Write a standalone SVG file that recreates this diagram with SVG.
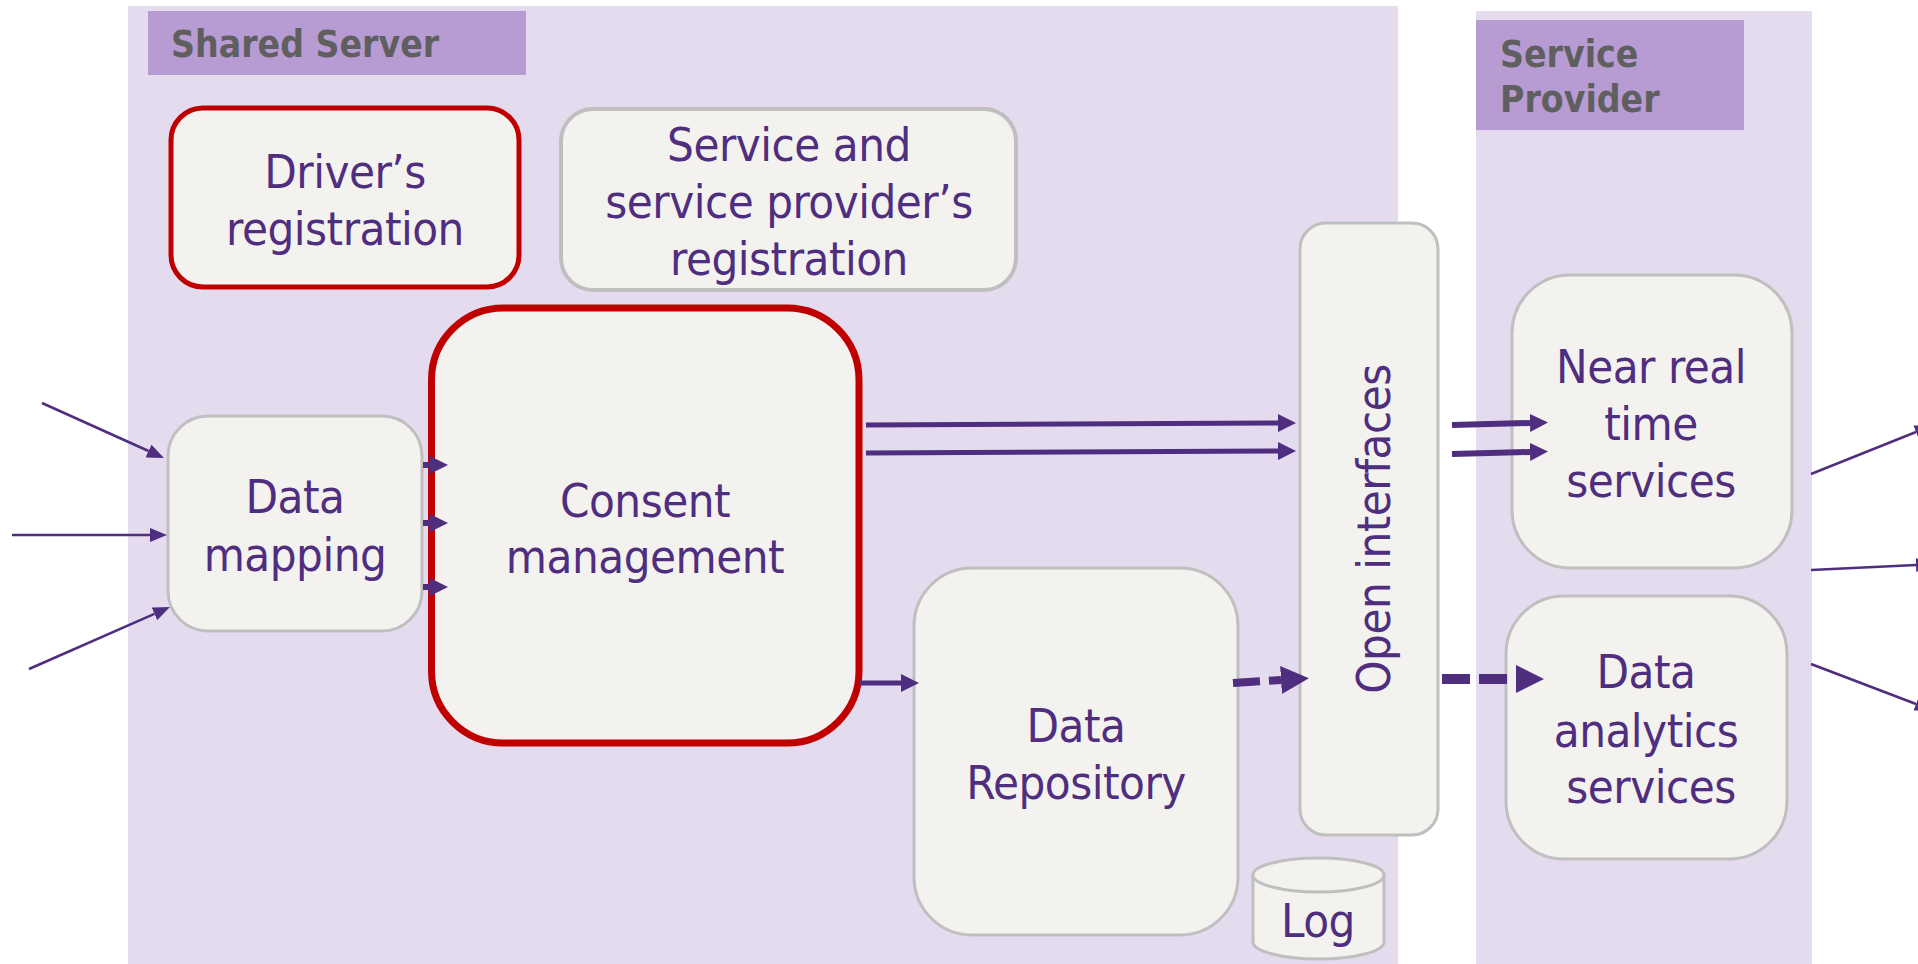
<svg xmlns="http://www.w3.org/2000/svg" width="1918" height="964" viewBox="0 0 1918 964">
<style>
.bg{fill:#E4DCEE}
.title{fill:#B79BD3}
.ttl{font-family:"DejaVu Sans Condensed","DejaVu Sans",sans-serif;font-weight:bold;font-size:37px;fill:#5F5F5F}
.node{fill:#F3F2EF;stroke:#BFBFBF;stroke-width:3}
.red{stroke:#C00000}
.lbl{font-family:"DejaVu Sans Condensed","DejaVu Sans",sans-serif;font-size:47px;letter-spacing:-0.5px;fill:#4F2D7F;text-anchor:middle}
.thin{stroke:#4F2D7F;stroke-width:2.5;fill:none}
.mid{stroke:#4F2D7F;stroke-width:5;fill:none}
.dash8{stroke:#4F2D7F;stroke-width:8;fill:none;stroke-dasharray:27 9}
.dash10{stroke:#4F2D7F;stroke-width:10;fill:none;stroke-dasharray:28 9}
</style>
<defs>
<marker id="hs" markerUnits="userSpaceOnUse" markerWidth="17" markerHeight="14" refX="0" refY="7" orient="auto"><path d="M0,0 L17,7 L0,14 z" fill="#4F2D7F"/></marker>
<marker id="hm" markerUnits="userSpaceOnUse" markerWidth="18" markerHeight="18" refX="0" refY="9" orient="auto"><path d="M0,0 L18,9 L0,18 z" fill="#4F2D7F"/></marker>
<marker id="hl" markerUnits="userSpaceOnUse" markerWidth="28" markerHeight="28" refX="0" refY="14" orient="auto"><path d="M0,0 L28,14 L0,28 z" fill="#4F2D7F"/></marker>
</defs>

<g id="shared-server">
<rect class="bg" x="128" y="6" width="1270" height="958"/>
<rect class="title" x="148" y="11" width="378" height="64"/>
<text class="ttl" x="171" y="57">Shared Server</text>
</g>
<g id="service-provider">
<rect class="bg" x="1476" y="11" width="336" height="953"/>
<rect class="title" x="1476" y="20" width="268" height="110"/>
<text class="ttl" x="1500" y="67">Service</text>
<text class="ttl" x="1500" y="112">Provider</text>
</g>

<g id="drivers-registration">
<rect class="node red" style="stroke-width:5" x="171" y="108" width="348" height="179" rx="32"/>
<text class="lbl" x="345" y="188">Driver’s</text>
<text class="lbl" x="345" y="245">registration</text>
</g>
<g id="service-registration">
<rect class="node" style="stroke-width:4" x="561" y="109" width="455" height="181" rx="32"/>
<text class="lbl" x="789" y="161">Service and</text>
<text class="lbl" x="789" y="218">service provider’s</text>
<text class="lbl" x="789" y="275">registration</text>
</g>
<g id="data-mapping">
<rect class="node" x="168" y="416" width="254" height="215" rx="40"/>
<text class="lbl" x="295" y="513">Data</text>
<text class="lbl" x="295" y="571">mapping</text>
</g>
<g id="consent-management">
<rect class="node red" style="stroke-width:7" x="431.5" y="308" width="427.5" height="435" rx="72"/>
<text class="lbl" x="645" y="517">Consent</text>
<text class="lbl" x="645" y="573">management</text>
</g>
<g id="data-repository">
<rect class="node" x="914" y="568" width="324" height="367" rx="58"/>
<text class="lbl" x="1076" y="742">Data</text>
<text class="lbl" x="1076" y="799">Repository</text>
</g>
<g id="open-interfaces">
<rect class="node" x="1300" y="223" width="138" height="612" rx="26"/>
<text class="lbl" transform="translate(1390,529) rotate(-90)" x="0" y="0">Open interfaces</text>
</g>
<g id="log">
<path class="node" d="M1253,875 L1253,942 A65.5,17 0 0 0 1384,942 L1384,875 Z"/>
<ellipse class="node" cx="1318.5" cy="875" rx="65.5" ry="17"/>
<text class="lbl" x="1318" y="937">Log</text>
</g>
<g id="near-real-time-services">
<rect class="node" x="1512" y="275" width="280" height="293" rx="58"/>
<text class="lbl" x="1651" y="383">Near real</text>
<text class="lbl" x="1651" y="440">time</text>
<text class="lbl" x="1651" y="497">services</text>
</g>
<g id="data-analytics-services">
<rect class="node" x="1506" y="596" width="281" height="263" rx="58"/>
<text class="lbl" x="1646" y="688">Data</text>
<text class="lbl" x="1646" y="747">analytics</text>
<text class="lbl" x="1651" y="803">services</text>
</g>

<g id="connectors">
<line class="thin" x1="42" y1="403" x2="148.5" y2="451" marker-end="url(#hs)"/>
<line class="thin" x1="12" y1="535" x2="150" y2="535" marker-end="url(#hs)"/>
<line class="thin" x1="29" y1="669" x2="154.4" y2="613.8" marker-end="url(#hs)"/>
<line class="mid" style="stroke-width:6" x1="423" y1="465" x2="430" y2="465" marker-end="url(#hm)"/>
<line class="mid" style="stroke-width:6" x1="423" y1="523" x2="430" y2="523" marker-end="url(#hm)"/>
<line class="mid" style="stroke-width:6" x1="423" y1="587" x2="430" y2="587" marker-end="url(#hm)"/>
<line class="mid" x1="866" y1="425" x2="1278" y2="423" marker-end="url(#hm)"/>
<line class="mid" x1="866" y1="453" x2="1278" y2="451" marker-end="url(#hm)"/>
<line class="mid" style="stroke-width:6" x1="1452" y1="425" x2="1530" y2="423" marker-end="url(#hm)"/>
<line class="mid" style="stroke-width:6" x1="1452" y1="454" x2="1530" y2="452" marker-end="url(#hm)"/>
<line class="mid" x1="859" y1="683" x2="901" y2="683" marker-end="url(#hm)"/>
<line class="dash8" x1="1233" y1="683" x2="1281" y2="680" marker-end="url(#hl)"/>
<line class="dash10" x1="1442" y1="679" x2="1516" y2="679" marker-end="url(#hl)"/>
<line class="thin" x1="1811" y1="474" x2="1916" y2="432" marker-end="url(#hs)"/>
<line class="thin" x1="1811" y1="570" x2="1916" y2="565" marker-end="url(#hs)"/>
<line class="thin" x1="1811" y1="664" x2="1916" y2="704" marker-end="url(#hs)"/>
</g>
</svg>
